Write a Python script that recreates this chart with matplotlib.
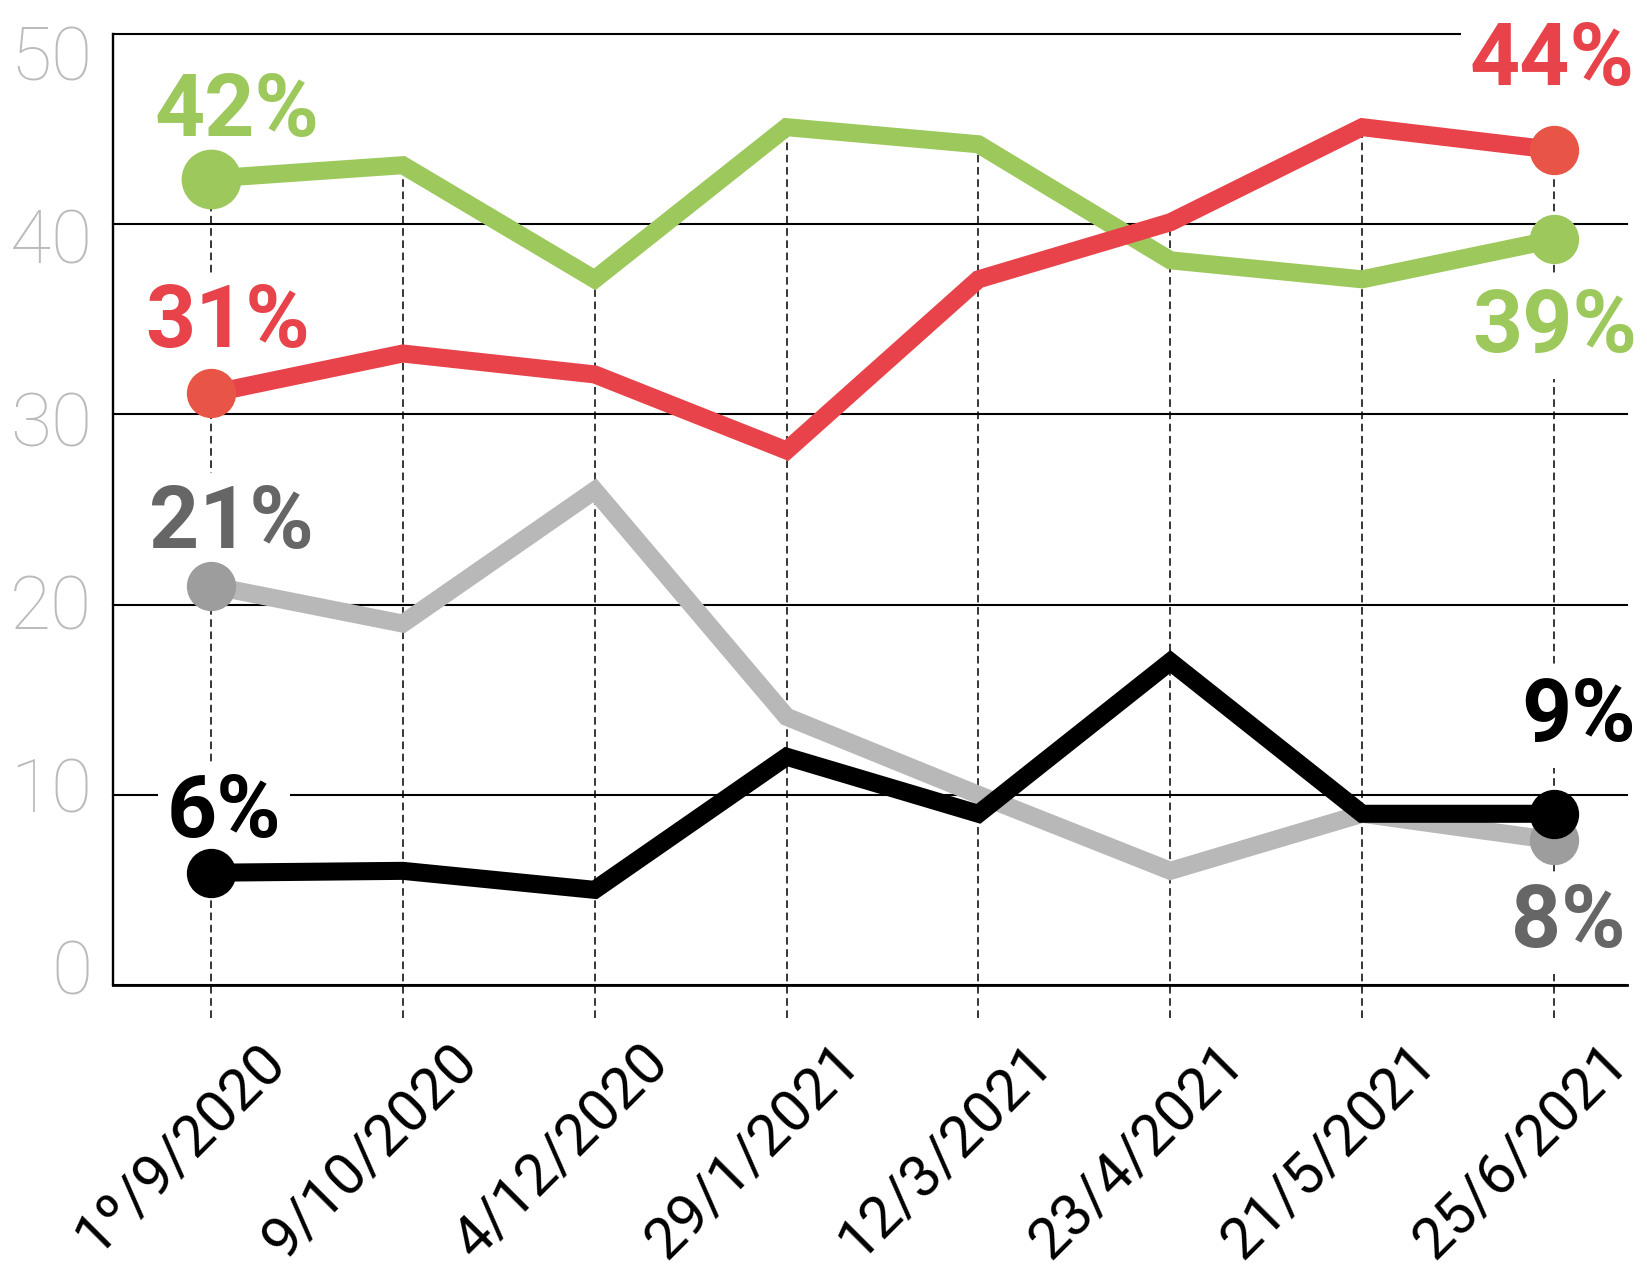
import matplotlib
matplotlib.use("Agg")
import matplotlib.pyplot as plt
from matplotlib.transforms import ScaledTranslation

plt.rcParams['font.family'] = ['Roboto', 'DejaVu Sans']

dates = ['1º/9/2020', '9/10/2020', '4/12/2020', '29/1/2021',
         '12/3/2021', '23/4/2021', '21/5/2021', '25/6/2021']
green = [42.4, 43.1, 37.1, 45.1, 44.2, 38.1, 37.1, 39.2]
red = [31.1, 33.2, 32.1, 28.1, 37.1, 40.1, 45.1, 43.9]
gray = [21.0, 19.0, 26.0, 14.1, 10.0, 6.0, 9.0, 7.6]
black = [5.9, 6.0, 5.0, 12.0, 9.0, 17.0, 9.0, 9.0]
yticks = [0, 10, 20, 30, 40, 50]

x = list(range(len(dates)))

fig = plt.figure(figsize=(16.47, 12.82), dpi=100)
ax = fig.add_axes([0.0686, 0.2317, 0.9193, 0.7418])
ax.set_xlim(-0.51, 7.38)
ax.set_ylim(0, 50)

# grid + spines
ax.set_yticks(yticks)
ax.set_axisbelow(True)
ax.grid(axis='y', color='black', lw=1.5)
ax.grid(axis='x', visible=False)
for gl in ax.yaxis.get_gridlines():
    gl.set_clip_on(False)
ax.spines['top'].set_visible(False)
ax.spines['right'].set_visible(False)
ax.spines['left'].set_linewidth(1.7)
ax.spines['bottom'].set_linewidth(2)
ax.tick_params(axis='y', length=0, labelleft=False)
ax.tick_params(axis='x', length=0)

# dashed guides down from the highest point of each date
tops = [max(v) for v in zip(green, red, gray, black)]
ax.vlines(x, -1.75, tops, colors='black', linestyles=(0, (5, 3)), lw=1.1,
          clip_on=False, zorder=1.5)

series = [
    (gray, '#b8b8b8', '#9d9d9d', 3.0),
    (green, '#9cc85c', '#9cc85c', 3.1),
    (red, '#e8434a', '#e85546', 3.2),
    (black, '#000000', '#000000', 3.3),
]
for vals, c, mc, z in series:
    ax.plot(x, vals, color=c, lw=13, solid_joinstyle='miter',
            solid_capstyle='butt', zorder=z)
    ms0 = 42 if vals is green else 34.5
    ax.plot([x[0]], [vals[0]], 'o', ms=ms0, color=mc, zorder=z + 0.05)
    ax.plot([x[-1]], [vals[-1]], 'o', ms=34.5, color=mc, zorder=z + 0.05)

# value labels (first and last poll)
labels = [
    (0, green, '#9cc85c', (18.7, 30.7)),
    (0, red, '#e8434a', (12.2, 33.1)),
    (0, gray, '#666666', (15.1, 27.1)),
    (0, black, '#000000', (9.4, 25.8)),
    (-1, red, '#e8434a', (-1.4, 46.8)),
    (-1, green, '#9cc85c', (0.7, -81.1)),
    (-1, black, '#000000', (17.3, 52.4)),
    (-1, gray, '#666666', (10.1, -76.8)),
]
for i, vals, c, off in labels:
    ax.annotate(f'{round(vals[i])}%', (x[i], vals[i]), xytext=off,
                textcoords='offset points', ha='center', va='baseline',
                fontsize=63, fontweight='bold', color=c, zorder=2,
                bbox=dict(boxstyle='square,pad=0.1', fc='white', ec='none'))

# x tick labels
ax.set_xticks(x)
ax.set_xticklabels(dates, rotation=45, ha='right', va='center',
                   rotation_mode='anchor', fontsize=42)
shift = ScaledTranslation(0.66, -0.64, fig.dpi_scale_trans)
for lbl in ax.get_xticklabels():
    lbl.set_transform(lbl.get_transform() + shift)

# y tick labels on a left twin scale
ax2 = ax.twinx()
ax2.set_ylim(-0.985, 51.04)
ax2.yaxis.set_ticks_position('left')
ax2.set_yticks(yticks)
ax2.tick_params(axis='y', length=0, pad=15, labelsize=54,
                labelcolor='#bbbbbb')
for lbl in ax2.get_yticklabels():
    lbl.set_fontweight('light')
for s in ax2.spines.values():
    s.set_visible(False)

fig.savefig('out.png', dpi=100)
